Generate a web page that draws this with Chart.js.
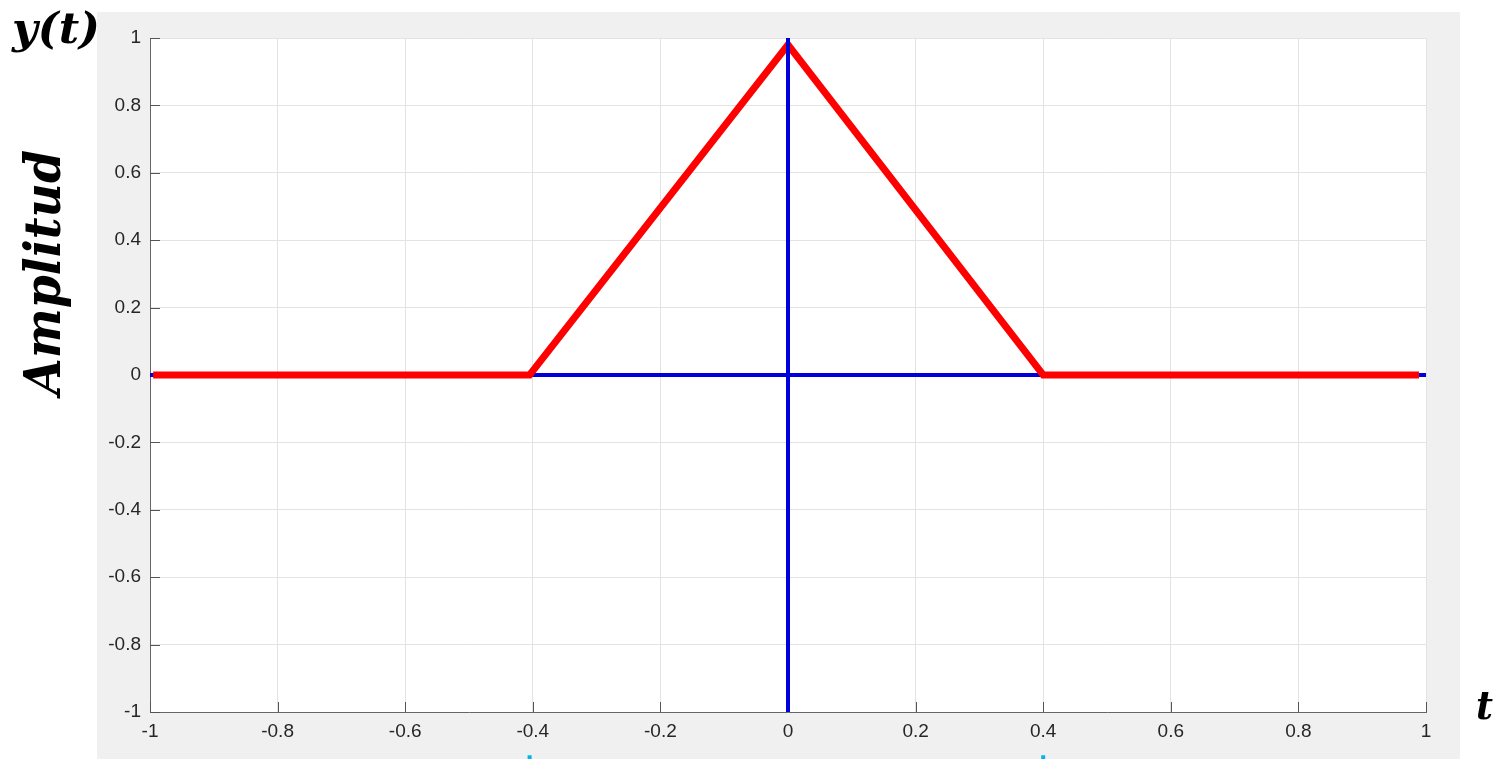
<!DOCTYPE html>
<html>
<head>
<meta charset="utf-8">
<script src="https://cdn.jsdelivr.net/npm/chart.js@4.4.1/dist/chart.umd.min.js"></script>
<style>
  html, body { margin: 0; padding: 0; background: #ffffff; }
  #plot { display: block; }
</style>
</head>
<body>
<canvas id="plot" width="1494" height="759"></canvas>
<script>
// signal y(t): triangular pulse
var sigT = [-0.995, -0.405, 0, 0.4, 0.989];
var sigY = [0, 0, 0.98, 0, 0];
// blue reference axes
var axisT = [-1, 1];
var axisZero = [0, 0];
// small cyan marks under the axis (tops of clipped stems)
var markT = [-0.405, -0.405, NaN, 0.4, 0.4];
var markY = [-1.128, -1.16, NaN, -1.128, -1.16];
// tick values
var xTicks = [-1, -0.8, -0.6, -0.4, -0.2, 0, 0.2, 0.4, 0.6, 0.8, 1];
var yTicks = [-1, -0.8, -0.6, -0.4, -0.2, 0, 0.2, 0.4, 0.6, 0.8, 1];

function pts(xs, ys) {
    var out = [];
    for (var i = 0; i < xs.length; i++) out.push({x: xs[i], y: ys[i]});
    return out;
}

function fmt(v) {
    return String(Math.round(v * 10) / 10);
}

var panelPlugin = {
    id: 'panel',
    beforeDraw: function(chart) {
        var ctx = chart.ctx;
        ctx.save();
        ctx.fillStyle = '#f0f0f0';
        ctx.fillRect(97, 12, 1460 - 97, 759 - 12);
        var a = chart.chartArea;
        ctx.fillStyle = '#ffffff';
        ctx.fillRect(a.left, a.top, a.right - a.left, a.bottom - a.top);
        ctx.restore();
    }
};

function fitText(ctx, text, x, y, width) {
    var w = ctx.measureText(text).width;
    ctx.save();
    ctx.translate(x, y);
    ctx.scale(width / w, 1);
    ctx.fillText(text, 0, 0);
    ctx.restore();
}

var axesPlugin = {
    id: 'axesDecor',
    beforeDatasetsDraw: function(chart) {
        var ctx = chart.ctx;
        var a = chart.chartArea;
        var xs = chart.scales.x, ys = chart.scales.y;
        ctx.save();
        // inward ticks
        ctx.strokeStyle = '#555555';
        ctx.lineWidth = 1;
        ctx.beginPath();
        xTicks.forEach(function(v) {
            var px = Math.round(xs.getPixelForValue(v)) + 0.5;
            ctx.moveTo(px, a.bottom);
            ctx.lineTo(px, a.bottom - 10);
        });
        yTicks.forEach(function(v) {
            var py = Math.round(ys.getPixelForValue(v)) + 0.5;
            ctx.moveTo(a.left, py);
            ctx.lineTo(a.left + 10, py);
        });
        ctx.stroke();
        ctx.restore();
    },
    afterDraw: function(chart) {
        var ctx = chart.ctx;
        ctx.save();
        ctx.fillStyle = '#000000';
        ctx.textBaseline = 'alphabetic';
        ctx.font = 'bold italic 42px "DejaVu Serif"';
        fitText(ctx, 'y(t)', 12, 43, 88);
        ctx.font = 'bold italic 40px "DejaVu Serif"';
        fitText(ctx, 't', 1476, 719, 17);
        ctx.save();
        ctx.translate(60, 395);
        ctx.rotate(-Math.PI / 2);
        ctx.font = 'bold italic 50px "DejaVu Serif"';
        fitText(ctx, 'Amplitud', 0, 0, 245);
        ctx.restore();
        ctx.restore();
    }
};

new Chart(document.getElementById('plot'), {
    type: 'scatter',
    data: {
        datasets: [{
            label: 'eje y',
            data: pts(axisZero, axisT),
            showLine: true,
            borderColor: '#0000dd',
            borderWidth: 4,
            pointRadius: 0,
            clip: false,
            order: 0
        }, {
            label: 'y(t)',
            data: pts(sigT, sigY),
            showLine: true,
            borderColor: '#ff0000',
            borderWidth: 7,
            pointRadius: 0,
            clip: false,
            order: 1
        }, {
            label: 'eje t',
            data: pts(axisT, axisZero),
            showLine: true,
            borderColor: '#0000dd',
            borderWidth: 4,
            pointRadius: 0,
            clip: false,
            order: 2
        }, {
            label: 'marcas',
            data: pts(markT, markY),
            showLine: true,
            spanGaps: false,
            borderColor: '#00b4f0',
            borderWidth: 4,
            pointRadius: 0,
            clip: false,
            order: 3
        }]
    },
    options: {
        responsive: false,
        animation: false,
        devicePixelRatio: 1,
        layout: { padding: { left: 0, top: 38, right: 68, bottom: 0 } },
        plugins: {
            legend: { display: false },
            tooltip: { enabled: false }
        },
        scales: {
            x: {
                type: 'linear',
                min: -1,
                max: 1,
                afterFit: function(s) { s.height = 47; },
                afterBuildTicks: function(s) { s.ticks = xTicks.map(function(v) { return {value: v}; }); },
                grid: { color: '#e3e3e3', drawTicks: false },
                border: { color: '#666666', width: 1 },
                ticks: {
                    padding: 8,
                    color: '#262626',
                    font: { family: '"Liberation Sans", Arial, sans-serif', size: 19 },
                    maxRotation: 0,
                    callback: function(v) { return fmt(v); }
                }
            },
            y: {
                type: 'linear',
                min: -1,
                max: 1,
                afterFit: function(s) { s.width = 150; },
                afterBuildTicks: function(s) { s.ticks = yTicks.map(function(v) { return {value: v}; }); },
                grid: { color: '#e3e3e3', drawTicks: false },
                border: { color: '#666666', width: 1 },
                ticks: {
                    padding: 9,
                    color: '#262626',
                    font: { family: '"Liberation Sans", Arial, sans-serif', size: 19 },
                    callback: function(v) { return fmt(v); }
                }
            }
        }
    },
    plugins: [panelPlugin, axesPlugin]
});
</script>
</body>
</html>
